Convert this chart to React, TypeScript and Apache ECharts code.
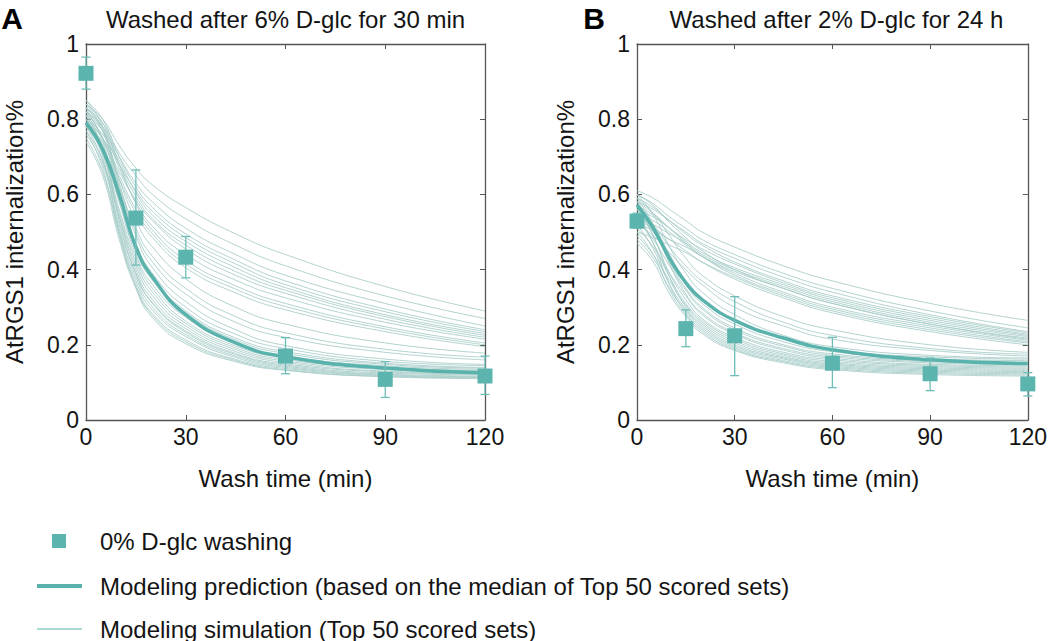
import React, { useEffect, useRef } from "react";
import * as echarts from "echarts";

// ---------- data ----------
const simTimes = [0, 5, 10, 15, 20, 30, 45, 60, 90, 120];
const obsTimes = [0, 15, 30, 60, 90, 120];

// Panel A: washed after 6% D-glc for 30 min
const obsA = [0.922, 0.537, 0.433, 0.17, 0.108, 0.117];
const obsALow = [0.88, 0.412, 0.378, 0.123, 0.06, 0.068];
const obsAHigh = [0.965, 0.665, 0.488, 0.219, 0.155, 0.17];
const medianA = [0.79, 0.72, 0.6, 0.46, 0.38, 0.28, 0.205, 0.168, 0.138, 0.125];
const simA = [
  [0.84, 0.8, 0.73, 0.67, 0.625, 0.565, 0.495, 0.44, 0.355, 0.29],
  [0.83, 0.79, 0.71, 0.65, 0.6, 0.535, 0.465, 0.41, 0.33, 0.27],
  [0.82, 0.78, 0.7, 0.63, 0.58, 0.51, 0.44, 0.385, 0.31, 0.25],
  [0.85, 0.8, 0.7, 0.62, 0.565, 0.495, 0.425, 0.37, 0.295, 0.24],
  [0.8, 0.76, 0.68, 0.61, 0.555, 0.485, 0.415, 0.36, 0.288, 0.235],
  [0.81, 0.77, 0.69, 0.605, 0.545, 0.475, 0.405, 0.352, 0.28, 0.23],
  [0.83, 0.78, 0.68, 0.595, 0.535, 0.465, 0.395, 0.345, 0.275, 0.225],
  [0.79, 0.75, 0.66, 0.585, 0.53, 0.455, 0.385, 0.337, 0.268, 0.22],
  [0.82, 0.77, 0.67, 0.58, 0.515, 0.44, 0.372, 0.325, 0.26, 0.215],
  [0.84, 0.79, 0.68, 0.575, 0.505, 0.425, 0.357, 0.31, 0.248, 0.205],
  [0.8, 0.75, 0.65, 0.56, 0.495, 0.415, 0.348, 0.302, 0.242, 0.2],
  [0.78, 0.74, 0.64, 0.55, 0.485, 0.405, 0.338, 0.293, 0.235, 0.195],
  [0.83, 0.77, 0.64, 0.53, 0.46, 0.375, 0.3, 0.255, 0.205, 0.178],
  [0.81, 0.75, 0.62, 0.51, 0.435, 0.35, 0.275, 0.232, 0.188, 0.167],
  [0.85, 0.78, 0.63, 0.5, 0.42, 0.335, 0.26, 0.22, 0.18, 0.16],
  [0.84, 0.77, 0.62, 0.49, 0.405, 0.315, 0.24, 0.198, 0.162, 0.148],
  [0.82, 0.75, 0.6, 0.47, 0.39, 0.3, 0.228, 0.19, 0.156, 0.145],
  [0.8, 0.73, 0.59, 0.46, 0.38, 0.29, 0.218, 0.182, 0.151, 0.14],
  [0.78, 0.71, 0.58, 0.45, 0.372, 0.285, 0.213, 0.177, 0.148, 0.138],
  [0.83, 0.74, 0.58, 0.44, 0.36, 0.273, 0.203, 0.17, 0.144, 0.135],
  [0.81, 0.72, 0.56, 0.43, 0.35, 0.263, 0.197, 0.165, 0.14, 0.132],
  [0.79, 0.71, 0.55, 0.42, 0.34, 0.257, 0.192, 0.161, 0.137, 0.13],
  [0.77, 0.69, 0.54, 0.41, 0.33, 0.25, 0.187, 0.157, 0.134, 0.127],
  [0.8, 0.71, 0.54, 0.4, 0.32, 0.243, 0.182, 0.153, 0.13, 0.124],
  [0.82, 0.72, 0.53, 0.39, 0.312, 0.237, 0.177, 0.149, 0.128, 0.122],
  [0.76, 0.68, 0.52, 0.39, 0.31, 0.233, 0.174, 0.146, 0.125, 0.12],
  [0.78, 0.69, 0.51, 0.38, 0.3, 0.227, 0.17, 0.143, 0.122, 0.117],
  [0.75, 0.66, 0.5, 0.37, 0.292, 0.222, 0.166, 0.14, 0.12, 0.115],
  [0.8, 0.7, 0.5, 0.36, 0.283, 0.213, 0.161, 0.137, 0.118, 0.113],
  [0.77, 0.67, 0.49, 0.355, 0.278, 0.208, 0.158, 0.134, 0.116, 0.112],
  [0.74, 0.65, 0.48, 0.35, 0.272, 0.203, 0.155, 0.132, 0.115, 0.11],
];

// Panel B: washed after 2% D-glc for 24 h
const obsB = [0.529, 0.243, 0.224, 0.151, 0.123, 0.096];
const obsBLow = [0.51, 0.195, 0.118, 0.086, 0.078, 0.064];
const obsBHigh = [0.55, 0.293, 0.328, 0.22, 0.165, 0.126];
const medianB = [0.572, 0.51, 0.43, 0.365, 0.32, 0.265, 0.218, 0.187, 0.16, 0.15];
const simB = [
  [0.61, 0.59, 0.56, 0.53, 0.5, 0.46, 0.41, 0.37, 0.31, 0.265],
  [0.6, 0.575, 0.54, 0.51, 0.48, 0.44, 0.39, 0.35, 0.29, 0.245],
  [0.58, 0.56, 0.53, 0.5, 0.47, 0.43, 0.38, 0.34, 0.28, 0.235],
  [0.59, 0.565, 0.53, 0.495, 0.465, 0.42, 0.37, 0.33, 0.275, 0.232],
  [0.56, 0.54, 0.51, 0.48, 0.455, 0.415, 0.365, 0.325, 0.27, 0.228],
  [0.57, 0.545, 0.51, 0.475, 0.445, 0.405, 0.36, 0.32, 0.265, 0.225],
  [0.54, 0.52, 0.495, 0.47, 0.44, 0.4, 0.355, 0.315, 0.26, 0.222],
  [0.6, 0.57, 0.525, 0.485, 0.45, 0.4, 0.35, 0.31, 0.255, 0.218],
  [0.52, 0.505, 0.48, 0.46, 0.435, 0.395, 0.35, 0.31, 0.255, 0.215],
  [0.55, 0.53, 0.5, 0.465, 0.435, 0.39, 0.34, 0.3, 0.25, 0.212],
  [0.58, 0.55, 0.51, 0.47, 0.435, 0.385, 0.335, 0.295, 0.245, 0.208],
  [0.5, 0.485, 0.465, 0.445, 0.42, 0.38, 0.33, 0.29, 0.24, 0.205],
  [0.53, 0.51, 0.48, 0.45, 0.42, 0.375, 0.325, 0.285, 0.235, 0.2],
  [0.59, 0.55, 0.49, 0.43, 0.385, 0.33, 0.275, 0.24, 0.2, 0.18],
  [0.56, 0.52, 0.46, 0.41, 0.37, 0.315, 0.26, 0.225, 0.19, 0.175],
  [0.52, 0.49, 0.445, 0.4, 0.36, 0.3, 0.25, 0.215, 0.185, 0.17],
  [0.6, 0.545, 0.46, 0.39, 0.34, 0.28, 0.225, 0.195, 0.172, 0.165],
  [0.58, 0.52, 0.44, 0.37, 0.32, 0.265, 0.215, 0.187, 0.168, 0.162],
  [0.55, 0.5, 0.43, 0.36, 0.31, 0.255, 0.208, 0.182, 0.163, 0.158],
  [0.57, 0.51, 0.42, 0.35, 0.3, 0.245, 0.2, 0.176, 0.158, 0.154],
  [0.53, 0.48, 0.41, 0.345, 0.295, 0.24, 0.196, 0.172, 0.155, 0.15],
  [0.59, 0.52, 0.415, 0.335, 0.285, 0.232, 0.19, 0.168, 0.152, 0.147],
  [0.51, 0.46, 0.39, 0.33, 0.28, 0.228, 0.186, 0.164, 0.148, 0.144],
  [0.56, 0.49, 0.39, 0.32, 0.27, 0.22, 0.18, 0.16, 0.145, 0.141],
  [0.54, 0.47, 0.38, 0.31, 0.265, 0.215, 0.176, 0.156, 0.142, 0.138],
  [0.49, 0.44, 0.37, 0.305, 0.26, 0.21, 0.172, 0.152, 0.139, 0.135],
  [0.57, 0.49, 0.38, 0.3, 0.255, 0.205, 0.168, 0.149, 0.136, 0.132],
  [0.52, 0.455, 0.36, 0.295, 0.25, 0.2, 0.165, 0.146, 0.133, 0.129],
  [0.48, 0.43, 0.35, 0.29, 0.245, 0.196, 0.162, 0.143, 0.13, 0.126],
  [0.55, 0.47, 0.36, 0.285, 0.24, 0.192, 0.158, 0.14, 0.127, 0.123],
  [0.5, 0.44, 0.345, 0.28, 0.235, 0.188, 0.155, 0.137, 0.124, 0.12],
  [0.47, 0.42, 0.335, 0.275, 0.23, 0.185, 0.152, 0.134, 0.121, 0.117],
];

const panelTitles = ["Washed after 6% D-glc for 30 min", "Washed after 2% D-glc for 24 h"];
const panelLetters = ["A", "B"];
const xTicks = { min: 0, max: 120, interval: 30 };
const yTicks = { min: 0, max: 1, interval: 0.2 };
const xName = "Wash time (min)";
const yName = "AtRGS1 internalization%";
const obsName = "0% D-glc washing";
const medianName = "Modeling prediction (based on the median of Top 50 scored sets)";
const simName = "Modeling simulation (Top 50 scored sets)";

// ---------- styles ----------
const FONT = "'Liberation Sans', Arial, Helvetica, sans-serif";
const TEXT = "#141414";
const AXIS = "#555555";
const MARK = "#5cb4ae";
const MEDIAN = "#5ab2ac";
const SIM = "#a4cbc8";
const SIM_LEGEND = "#a8d8d4";
const ERR = "#6fbdb8";

const grids = [
  { left: 86, top: 44, width: 399, height: 376 },
  { left: 637, top: 44, width: 399, height: 376 },
];
const letterX = [12, 594];

export default function App() {
  const ref = useRef<HTMLDivElement>(null);

  useEffect(() => {
    document.body.style.margin = "0";
    if (!ref.current) return;
    const chart = echarts.init(ref.current, undefined, { renderer: "svg" });

    const xAxes: any[] = [];
    const yAxes: any[] = [];
    grids.forEach((_, g) => {
      const axisLine = { show: true, onZero: false, lineStyle: { color: AXIS, width: 1.3 } };
      const axisTick = { show: true, inside: true, length: 5, lineStyle: { color: AXIS, width: 1 } };
      xAxes.push({
        gridIndex: g, type: "value", position: "bottom", ...xTicks,
        axisLine, axisTick, splitLine: { show: false },
        axisLabel: { fontSize: 23, color: TEXT, fontFamily: FONT, margin: 5 },
        name: xName, nameLocation: "middle", nameGap: 46,
        nameTextStyle: { fontSize: 24, color: TEXT, fontFamily: FONT },
      });
      xAxes.push({
        gridIndex: g, type: "value", position: "top", ...xTicks,
        axisLine, axisTick, splitLine: { show: false }, axisLabel: { show: false },
      });
      yAxes.push({
        gridIndex: g, type: "value", position: "left", ...yTicks,
        axisLine, axisTick, splitLine: { show: false },
        axisLabel: {
          fontSize: 23, color: TEXT, fontFamily: FONT, margin: 7,
          formatter: (v: number) => String(+v.toFixed(1)),
        },
        name: yName, nameLocation: "middle", nameGap: 60,
        nameTextStyle: { fontSize: 24, color: TEXT, fontFamily: FONT },
      });
      yAxes.push({
        gridIndex: g, type: "value", position: "right", ...yTicks,
        axisLine, axisTick, splitLine: { show: false }, axisLabel: { show: false },
      });
    });

    const panels = [
      { sims: simA, median: medianA, obs: obsA, lo: obsALow, hi: obsAHigh },
      { sims: simB, median: medianB, obs: obsB, lo: obsBLow, hi: obsBHigh },
    ];

    const series: any[] = [];
    panels.forEach((p, g) => {
      const xi = g * 2;
      const yi = g * 2;
      p.sims.forEach((c) => {
        series.push({
          name: simName, type: "line", xAxisIndex: xi, yAxisIndex: yi,
          data: simTimes.map((t, i) => [t, c[i]]),
          smooth: 0.5, symbol: "none", showSymbol: false,
          lineStyle: { color: SIM, width: 1, opacity: 0.85 },
          itemStyle: { color: SIM }, silent: true, z: 1,
        });
      });
      series.push({
        name: medianName, type: "line", xAxisIndex: xi, yAxisIndex: yi,
        data: simTimes.map((t, i) => [t, p.median[i]]),
        smooth: 0.5, symbol: "none", showSymbol: false,
        lineStyle: { color: MEDIAN, width: 3.5 }, itemStyle: { color: MEDIAN }, z: 3,
      });
      series.push({
        name: "error", type: "custom", xAxisIndex: xi, yAxisIndex: yi,
        data: obsTimes.map((t, i) => [t, p.lo[i], p.hi[i]]),
        renderItem: (params: any, api: any) => {
          const x = api.value(0);
          const top = api.coord([x, api.value(2)]);
          const bot = api.coord([x, api.value(1)]);
          const hw = 4.5;
          const st = { stroke: ERR, lineWidth: 1.3 };
          return {
            type: "group",
            children: [
              { type: "line", shape: { x1: top[0], y1: top[1], x2: bot[0], y2: bot[1] }, style: st },
              { type: "line", shape: { x1: top[0] - hw, y1: top[1], x2: top[0] + hw, y2: top[1] }, style: st },
              { type: "line", shape: { x1: bot[0] - hw, y1: bot[1], x2: bot[0] + hw, y2: bot[1] }, style: st },
            ],
          };
        },
        silent: true, z: 4, clip: false,
      });
      series.push({
        name: obsName, type: "scatter", xAxisIndex: xi, yAxisIndex: yi,
        data: obsTimes.map((t, i) => [t, p.obs[i]]),
        symbol: "rect", symbolSize: 15, itemStyle: { color: MARK, opacity: 1 }, z: 5, clip: false,
      });
    });

    const legendText = { fontSize: 24, color: TEXT, fontFamily: FONT, lineHeight: 28 };
    const legendBase = { orient: "vertical", padding: 0, selectedMode: false, itemGap: 0 };

    const graphics: any[] = [];
    grids.forEach((gr, g) => {
      graphics.push({
        type: "text", x: gr.left + gr.width / 2, y: 19,
        style: { text: panelTitles[g], align: "center", verticalAlign: "middle", font: `24px ${FONT}`, fill: TEXT },
      });
      graphics.push({
        type: "text", x: letterX[g], y: 18,
        style: { text: panelLetters[g], align: "center", verticalAlign: "middle", font: `bold 30px ${FONT}`, fill: "#000" },
      });
    });

    chart.setOption({
      animation: false,
      backgroundColor: "#ffffff",
      grid: grids.map((g) => ({ ...g, containLabel: false })),
      xAxis: xAxes,
      yAxis: yAxes,
      series,
      legend: [
        {
          ...legendBase, left: 52, top: 527, itemWidth: 14, itemHeight: 14,
          data: [{ name: obsName, icon: "rect", itemStyle: { color: MARK } }],
          textStyle: { ...legendText, padding: [0, 0, 0, 29] },
        },
        {
          ...legendBase, left: 37, top: 572, itemWidth: 45, itemHeight: 4,
          data: [{ name: medianName, icon: "rect", itemStyle: { color: MEDIAN } }],
          textStyle: { ...legendText, padding: [0, 0, 0, 13] },
        },
        {
          ...legendBase, left: 37, top: 615, itemWidth: 45, itemHeight: 2,
          data: [{ name: simName, icon: "rect", itemStyle: { color: SIM_LEGEND } }],
          textStyle: { ...legendText, padding: [0, 0, 0, 13] },
        },
      ],
      graphic: graphics,
    });

    return () => chart.dispose();
  }, []);

  return <div ref={ref} style={{ width: 1050, height: 641 }} />;
}
